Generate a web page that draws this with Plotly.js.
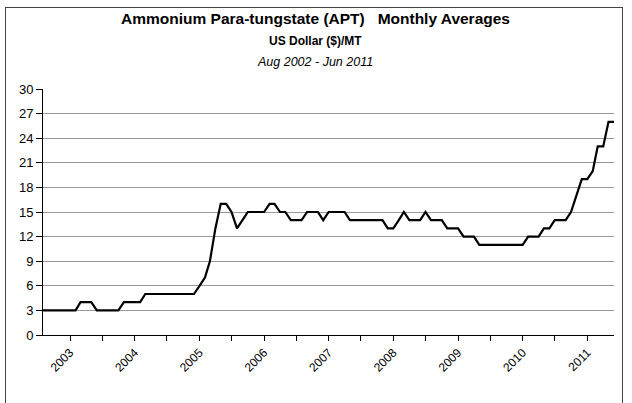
<!DOCTYPE html>
<html>
<head>
<meta charset="utf-8">
<script src="https://cdn.plot.ly/plotly-3.0.1.min.js"></script>
<style>
  html, body { margin: 0; padding: 0; background: #fff; overflow: hidden; }
  #chart { width: 632px; height: 403px; position: absolute; left: 0; top: 0; }
  #frame { position: absolute; left: 5px; top: 7px; width: 616px; height: 420px;
           border: 1px solid #444; pointer-events: none; }
</style>
</head>
<body>
<div id="chart"></div>
<div id="frame"></div>
<script>
// Monthly averages, Aug 2002 - Jun 2011
const startYear = 2002, startMonth = 8;
const aptPrice = [
  3,3,3,3,3,3,3,      // Aug 2002 - Feb 2003
  4,4,4,              // Mar - May 2003
  3,3,3,3,3,          // Jun - Oct 2003
  4,4,4,4,            // Nov 2003 - Feb 2004
  5,5,5,5,5,5,5,5,5,5,// Mar - Dec 2004
  6,7,9,13,16,16,15,13,14,
  15,15,15,15,
  16,16,
  15,15,
  14,14,14,
  15,15,15,
  14,
  15,15,15,15,
  14,14,14,14,14,14,14,
  13,13,
  14,15,
  14,14,14,
  15,
  14,14,14,
  13,13,13,
  12,12,12,
  11,11,11,11,11,11,11,11,11,
  12,12,12,
  13,13,
  14,14,14,
  15,17,19,19,20,23,23,26,26
];
const months = aptPrice.map((v, i) => {
  const m0 = startMonth - 1 + i;
  const y = startYear + Math.floor(m0 / 12);
  const m = (m0 % 12) + 1;
  return y + '-' + String(m).padStart(2, '0') + '-01';
});
const tickYears = [2003,2004,2005,2006,2007,2008,2009,2010,2011];
const tickVals = [], tickText = [];
tickYears.forEach(y => {
  tickVals.push(y + '-01-01'); tickText.push(String(y));
  if (y < 2011) { tickVals.push(y + '-07-01'); tickText.push(''); }
});
const yTicks = [0,3,6,9,12,15,18,21,24,27,30];

const trace = {
  x: months, y: aptPrice, type: 'scatter', mode: 'lines',
  line: { color: '#000', width: 2.2 }, hoverinfo: 'skip'
};
const layout = {
  width: 632, height: 403,
  margin: { l: 43, r: 18, t: 89, b: 68 },
  paper_bgcolor: 'rgba(0,0,0,0)', plot_bgcolor: '#fff',
  showlegend: false,
  font: { family: 'Liberation Sans, Arial, sans-serif', color: '#000', size: 12 },
  xaxis: {
    type: 'date', range: [months[0], months[months.length - 1]],
    tickmode: 'array', tickvals: tickVals, ticktext: tickText,
    tickangle: -45, ticks: 'outside', ticklen: 5, tickcolor: '#000',
    showline: true, linecolor: '#000', linewidth: 1, showgrid: false, zeroline: false,
    tickfont: { size: 12 }
  },
  yaxis: {
    range: [0, 30], tickmode: 'array', tickvals: yTicks,
    ticks: 'outside', ticklen: 6, tickcolor: '#000',
    showline: true, linecolor: '#000', linewidth: 1,
    showgrid: true, gridcolor: '#999', gridwidth: 1, zeroline: false,
    tickfont: { size: 13 }
  },
  annotations: [
    { text: '<b>Ammonium Para-tungstate (APT)\u00a0\u00a0 Monthly Averages</b>', xref: 'paper', yref: 'paper',
      x: 0.477, y: (335 - 19) / 246, xanchor: 'center', yanchor: 'middle', showarrow: false,
      font: { size: 15.5 } },
    { text: '<b>US Dollar ($)/MT</b>', xref: 'paper', yref: 'paper',
      x: 0.477, y: (335 - 41) / 246, xanchor: 'center', yanchor: 'middle', showarrow: false,
      font: { size: 12 } },
    { text: '<i>Aug 2002 - Jun 2011</i>', xref: 'paper', yref: 'paper',
      x: 0.477, y: (335 - 62) / 246, xanchor: 'center', yanchor: 'middle', showarrow: false,
      font: { size: 12.5 } }
  ]
};
Plotly.newPlot('chart', [trace], layout, { displayModeBar: false, staticPlot: true });
</script>
</body>
</html>
